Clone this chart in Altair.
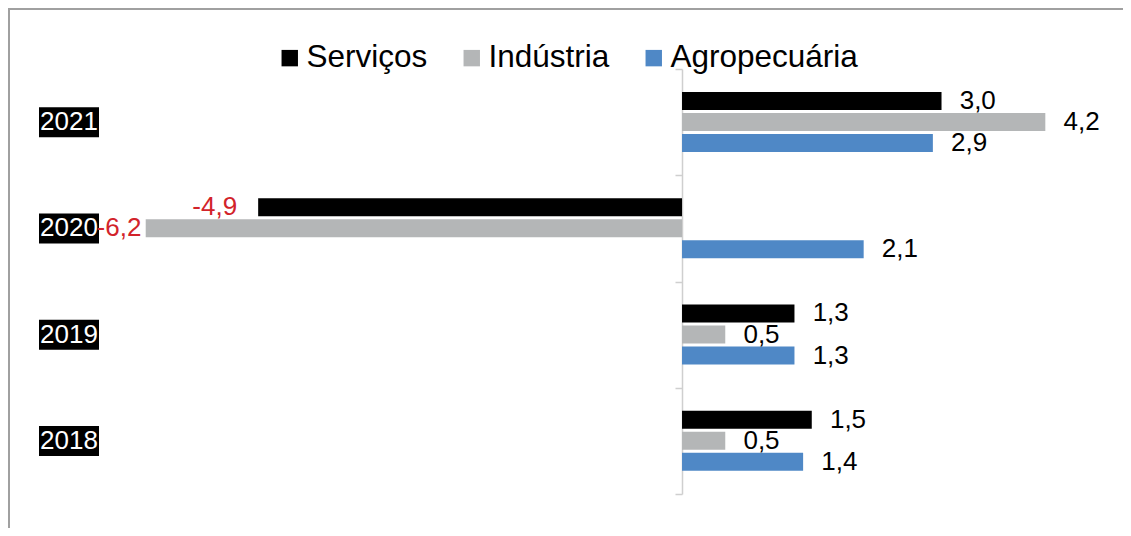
import altair as alt
import pandas as pd

years = ["2021", "2020", "2019", "2018"]
series = ["Serviços", "Indústria", "Agropecuária"]
servicos = [3.0, -4.9, 1.3, 1.5]
industria = [4.2, -6.2, 0.5, 0.5]
agropecuaria = [2.9, 2.1, 1.3, 1.4]
colors = ["#000000", "#b4b6b7", "#4f88c6"]

rows = []
for i, yr in enumerate(years):
    for s, vals in zip(series, [servicos, industria, agropecuaria]):
        v = vals[i]
        rows.append({"year": yr, "series": s, "v": v,
                     "label": f"{v:.1f}".replace(".", ",")})
df = pd.DataFrame(rows)
ydf = pd.DataFrame({"year": years})

FONT = "Liberation Sans"
W, H = 1115, 520

x_scale = alt.Scale(domain=[-7.792, 5.098], nice=False, zero=False)
y_scale = alt.Scale(range=[61, 486], paddingInner=0, paddingOuter=0)
y_axis = alt.Axis(offset=-674, labels=False, title=None, domainColor="#cfcfcf",
                  domainWidth=1.5, tickColor="#cfcfcf", tickSize=7, tickWidth=1.5,
                  tickBand="extent", grid=False)
y_enc = alt.Y("year:N", sort=years, scale=y_scale, axis=y_axis)
yoff = alt.YOffset("series:N", sort=series,
                   scale=alt.Scale(range=[23, 83], paddingInner=0.143, paddingOuter=0))

frame_top = alt.Chart(ydf).mark_rule(color="#a0a0a0", strokeWidth=2).encode(
    x=alt.value(0), x2=alt.value(W), y=alt.value(1))
frame_left = alt.Chart(ydf).mark_rule(color="#a0a0a0", strokeWidth=2).encode(
    x=alt.value(1), y=alt.value(0), y2=alt.value(H))

bars = alt.Chart(df).mark_bar().encode(
    x=alt.X("v:Q", scale=x_scale, axis=None),
    y=y_enc,
    yOffset=yoff,
    color=alt.Color("series:N", sort=series,
                    scale=alt.Scale(domain=series, range=colors),
                    legend=alt.Legend(orient="none", legendX=266, legendY=34,
                                      direction="horizontal", title=None,
                                      symbolType="square", symbolSize=270,
                                      symbolStrokeWidth=0, labelFontSize=31.5,
                                      labelFont=FONT, labelColor="black",
                                      labelOffset=1, columnPadding=28,
                                      labelLimit=400)),
)

pos_text = alt.Chart(df).transform_filter("datum.v >= 0").transform_calculate(
    lx="datum.v + 0.21").mark_text(
    align="left", baseline="middle", fontSize=26, font=FONT, color="black").encode(
    x=alt.X("lx:Q", scale=x_scale, axis=None),
    y=y_enc, yOffset=yoff, text="label:N")

neg_text = alt.Chart(df).transform_filter("datum.v < 0").transform_calculate(
    lx="max(datum.v - 0.243, -6.25)").mark_text(
    align="right", baseline="middle", fontSize=26, font=FONT, color="#d2232a").encode(
    x=alt.X("lx:Q", scale=x_scale, axis=None),
    y=y_enc, yOffset=yoff, text="label:N")

year_box = alt.Chart(ydf).mark_bar(color="black", height=30).encode(
    x=alt.value(31), x2=alt.value(91), y=y_enc)
year_text = alt.Chart(ydf).mark_text(
    align="center", baseline="middle", fontSize=26, font=FONT, color="white").encode(
    x=alt.value(61), y=y_enc, text="year:N")

chart = alt.layer(frame_top, frame_left, year_box, year_text, bars, pos_text, neg_text).properties(
    width=W, height=H, autosize=alt.AutoSizeParams(type="none"), padding=0,
    background="white").configure_view(stroke=None)

chart.save("out.html", embed_options={"renderer": "svg", "actions": False})
